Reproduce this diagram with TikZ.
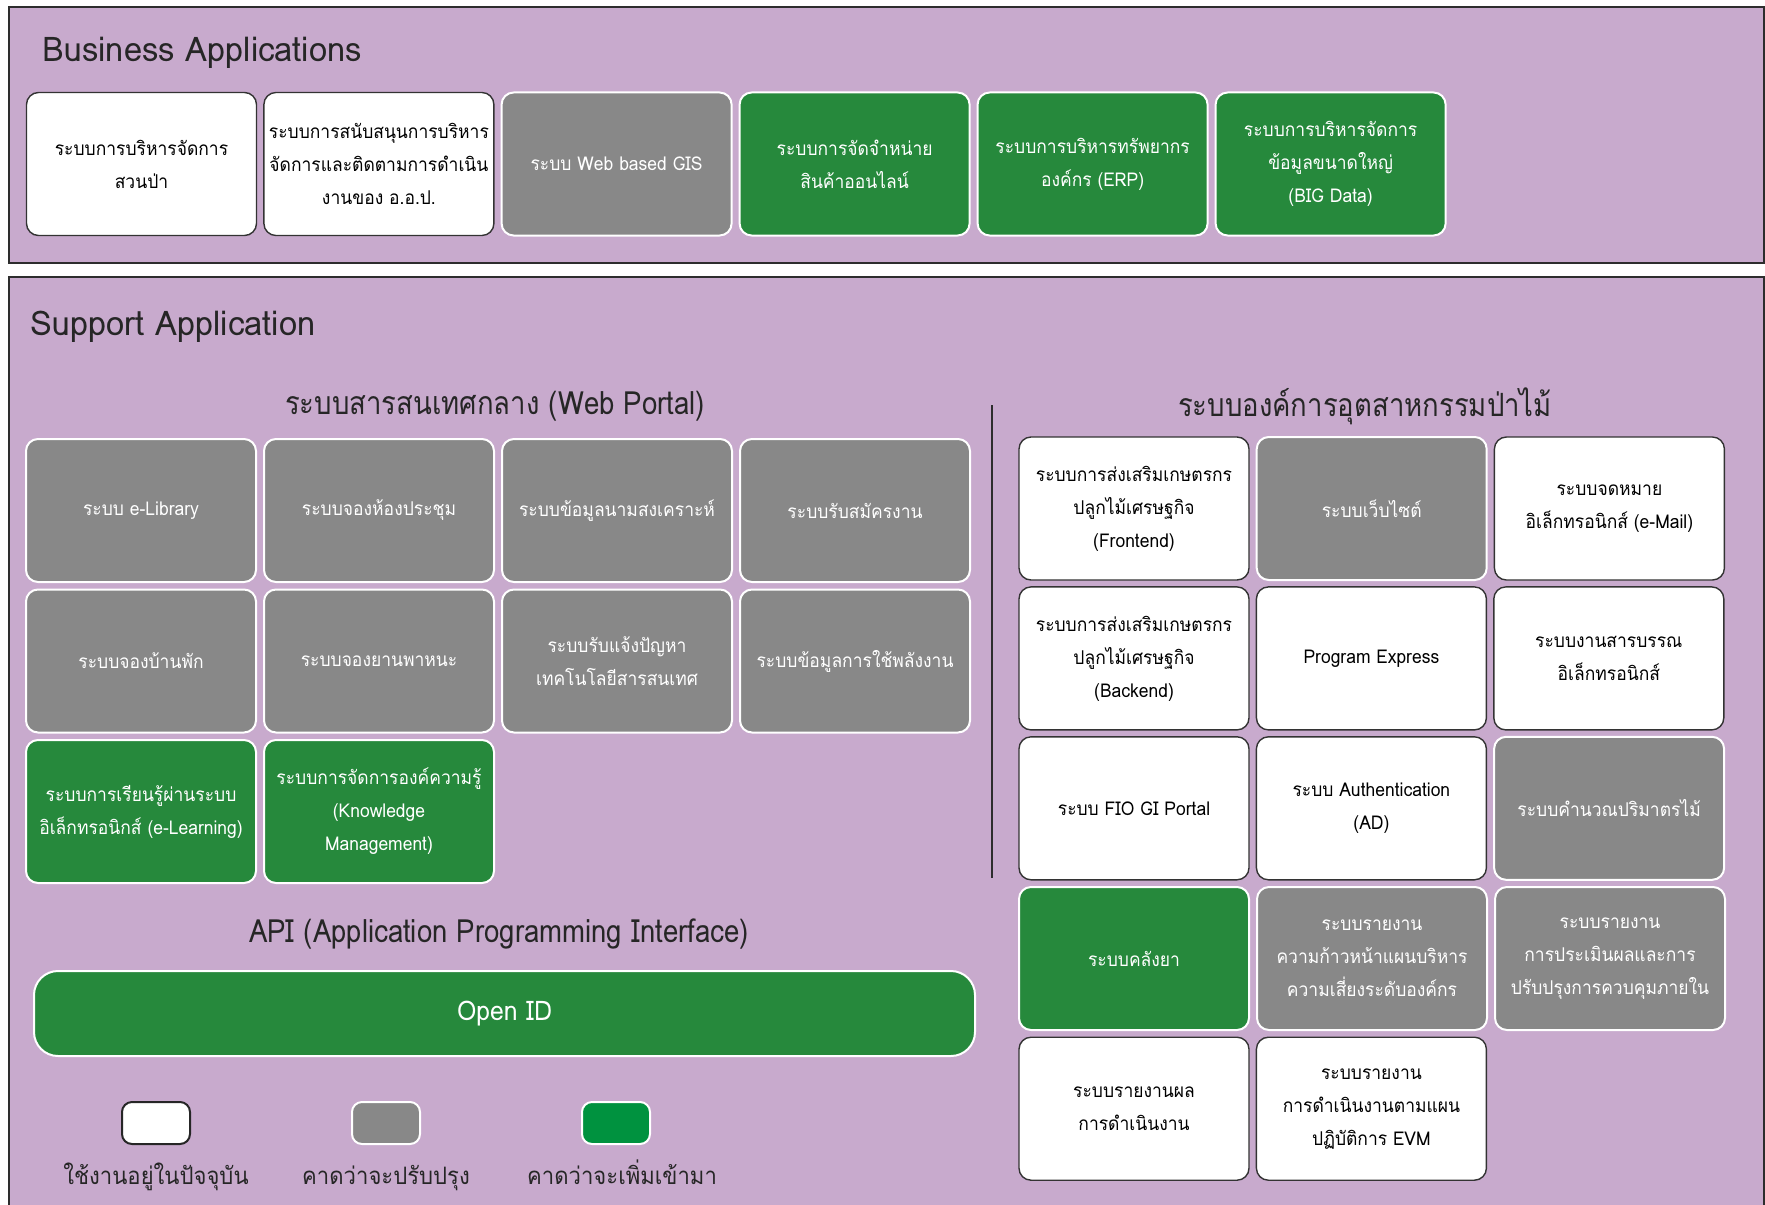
\documentclass[tikz,border=0pt]{standalone}
\usepackage{fontspec}
\setmainfont[Script=Thai]{Loma}
\newfontfamily\boxfont[Script=Thai, FakeStretch=0.92]{Loma}
\newfontfamily\headfont[Script=Thai, FakeStretch=0.86]{Loma}
\newfontfamily\titlefont[Script=Thai, FakeStretch=0.96]{Loma}
\usepackage{xcolor}
\usepackage{tikz}
\usetikzlibrary{positioning}
\definecolor{panelbg}{RGB}{200,170,205}
\definecolor{panelline}{RGB}{45,45,45}
\definecolor{boxgray}{RGB}{136,136,136}
\definecolor{boxgreen}{RGB}{38,137,60}
\definecolor{leggreen}{RGB}{0,146,63}

\begin{document}
\begin{tikzpicture}[
    node distance=2.75pt and 3pt,
    every node/.style={inner sep=0pt},
    panel/.style={rectangle, draw=panelline, fill=panelbg, line width=1pt, anchor=north west},
    title/.style={anchor=west, font=\titlefont\fontsize{17}{20}\selectfont, text=black!85},
    heading/.style={font=\headfont\fontsize{16}{20}\selectfont, text=black!85},
    app/.style={rectangle, rounded corners=6pt, minimum width=115pt, minimum height=71.5pt, align=center, font=\boxfont\fontsize{9.5}{16.5}\selectfont},
    nowbox/.style={app, draw=black!80, fill=white, line width=0.7pt, text=black},
    updbox/.style={app, draw=white, fill=boxgray, line width=1pt, text=white},
    newbox/.style={app, draw=white, fill=boxgreen, line width=1pt, text=white},
    bar/.style={rectangle, rounded corners=12pt, draw=white, fill=boxgreen, line width=1pt, minimum width=470.5pt, minimum height=42.5pt, text=white, font=\boxfont\fontsize{13.5}{16}\selectfont},
    legbox/.style={rectangle, rounded corners=5pt, minimum width=34pt, minimum height=21pt, line width=1pt},
    legtext/.style={anchor=base, font=\boxfont\fontsize{12}{14}\selectfont, text=black!85}
]
\useasboundingbox (0,0) rectangle (882.5pt,-602pt);
\node[panel, minimum width=877.5pt, minimum height=128pt] (bizpanel) at (4pt,-3pt) {};
\node[panel, minimum width=877.5pt, minimum height=470pt] (suppanel) at (4pt,-138pt) {};

\node[title] (biztitle) at (21pt,-26.5pt) {Business Applications};
\node[nowbox] (forest) at (70.75pt,-82pt) {ระบบการบริหารจัดการ\\สวนป่า};
\node[nowbox, right=of forest] (support) {ระบบการสนับสนุนการบริหาร\\จัดการและติดตามการดำเนิน\\งานของ อ.อ.ป.};
\node[updbox, right=of support] (gis) {ระบบ Web based GIS};
\node[newbox, right=of gis] (shop) {ระบบการจัดจำหน่าย\\สินค้าออนไลน์};
\node[newbox, right=of shop] (erp) {ระบบการบริหารทรัพยากร\\องค์กร (ERP)};
\node[newbox, right=of erp] (bigdata) {ระบบการบริหารจัดการ\\ข้อมูลขนาดใหญ่\\(BIG Data)};

\node[title] (suptitle) at (15pt,-163.5pt) {Support Application};
\node[heading] (portal) at (247.5pt,-203pt) {ระบบสารสนเทศกลาง (Web Portal)};
\node[updbox] (elib) at (70.5pt,-255.25pt) {ระบบ e-Library};
\node[updbox, right=of elib] (meeting) {ระบบจองห้องประชุม};
\node[updbox, right=of meeting] (welfare) {ระบบข้อมูลนามสงเคราะห์};
\node[updbox, right=of welfare] (jobs) {ระบบรับสมัครงาน};
\node[updbox, below=of elib] (house) {ระบบจองบ้านพัก};
\node[updbox, right=of house] (vehicle) {ระบบจองยานพาหนะ};
\node[updbox, right=of vehicle] (helpdesk) {ระบบรับแจ้งปัญหา\\เทคโนโลยีสารสนเทศ};
\node[updbox, right=of helpdesk] (energy) {ระบบข้อมูลการใช้พลังงาน};
\node[newbox, below=of house] (elearn) {ระบบการเรียนรู้ผ่านระบบ\\อิเล็กทรอนิกส์ (e-Learning)};
\node[newbox, right=of elearn] (km) {ระบบการจัดการองค์ความรู้\\(Knowledge\\Management)};

\node[heading] (api) at (249.5pt,-467pt) {API (Application Programming Interface)};
\node[bar] (openid) at (252.25pt,-506.75pt) {Open ID};

\node[legbox, draw=black!85, fill=white] (legnow) at (78pt,-561.5pt) {};
\node[legbox, draw=white, fill=boxgray] (legupd) at (193pt,-561.5pt) {};
\node[legbox, draw=white, fill=leggreen] (legnew) at (308pt,-561.5pt) {};
\node[legtext] (legnowtxt) at (78pt,-592pt) {ใช้งานอยู่ในปัจจุบัน};
\node[legtext] (legupdtxt) at (193pt,-592pt) {คาดว่าจะปรับปรุง};
\node[legtext] (legnewtxt) at (311pt,-592pt) {คาดว่าจะเพิ่มเข้ามา};

\coordinate (divtop) at (496pt,-202.5pt);
\coordinate (divbot) at (496pt,-439pt);
\draw[panelline, line width=1pt] (divtop) -- (divbot);

\node[heading] (fio) at (682.5pt,-203pt) {ระบบองค์การอุตสาหกรรมป่าไม้};
\node[nowbox] (front) at (567pt,-254.25pt) {ระบบการส่งเสริมเกษตรกร\\ปลูกไม้เศรษฐกิจ\\(Frontend)};
\node[updbox, right=of front] (website) {ระบบเว็บไซต์};
\node[nowbox, right=of website] (email) {ระบบจดหมาย\\อิเล็กทรอนิกส์ (e-Mail)};
\node[nowbox, below=of front] (back) {ระบบการส่งเสริมเกษตรกร\\ปลูกไม้เศรษฐกิจ\\(Backend)};
\node[nowbox, right=of back] (express) {Program Express};
\node[nowbox, right=of express] (saraban) {ระบบงานสารบรรณ\\อิเล็กทรอนิกส์};
\node[nowbox, below=of back] (giportal) {ระบบ FIO GI Portal};
\node[nowbox, right=of giportal] (auth) {ระบบ Authentication\\(AD)};
\node[updbox, right=of auth] (timber) {ระบบคำนวณปริมาตรไม้};
\node[newbox, below=of giportal] (drug) {ระบบคลังยา};
\node[updbox, right=of drug] (risk) {ระบบรายงาน\\ความก้าวหน้าแผนบริหาร\\ความเสี่ยงระดับองค์กร};
\node[updbox, right=of risk] (control) {ระบบรายงาน\\การประเมินผลและการ\\ปรับปรุงการควบคุมภายใน};
\node[nowbox, below=of drug] (result) {ระบบรายงานผล\\การดำเนินงาน};
\node[nowbox, right=of result] (evm) {ระบบรายงาน\\การดำเนินงานตามแผน\\ปฏิบัติการ EVM};
\end{tikzpicture}
\end{document}
